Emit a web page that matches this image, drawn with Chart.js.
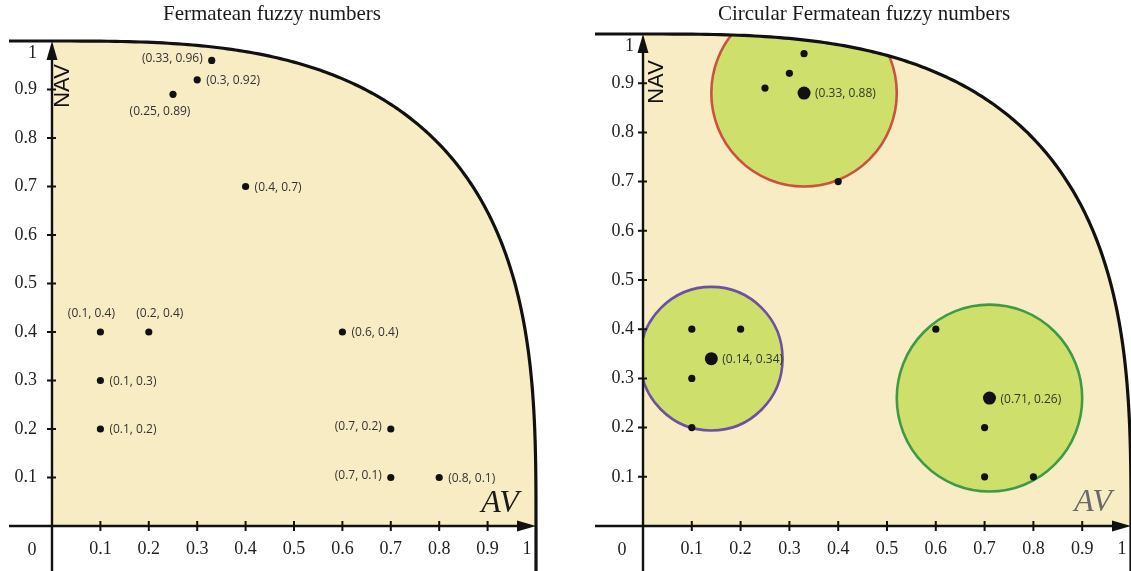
<!DOCTYPE html>
<html>
<head>
<meta charset="utf-8">
<script src="https://cdn.jsdelivr.net/npm/chart.js@4.4.1/dist/chart.umd.min.js"></script>
<style>
  html, body { margin: 0; padding: 0; background: #fff; overflow: hidden; width: 1131px; height: 571px; }
  canvas { position: absolute; top: 0; }
  #left { left: 0; }
  #right { left: 565px; }
</style>
</head>
<body>
<canvas id="left" width="565" height="571"></canvas>
<canvas id="right" width="592" height="571"></canvas>
<script>
// ticks shared by both panels
const tickValues = [0.1, 0.2, 0.3, 0.4, 0.5, 0.6, 0.7, 0.8, 0.9, 1];
const tickLabels = ['0.1', '0.2', '0.3', '0.4', '0.5', '0.6', '0.7', '0.8', '0.9', '1'];

// Fermatean fuzzy numbers (AV, NAV)
const fnAV  = [0.33, 0.3, 0.25, 0.4, 0.1, 0.2, 0.1, 0.1, 0.6, 0.7, 0.7, 0.8];
const fnNAV = [0.96, 0.92, 0.89, 0.7, 0.4, 0.4, 0.3, 0.2, 0.4, 0.2, 0.1, 0.1];

// circular Fermatean fuzzy numbers: centres and radii
const centerAV  = [0.33, 0.14, 0.71];
const centerNAV = [0.88, 0.34, 0.26];
const radius    = [0.19, 0.146, 0.19];

// where each point label sits (style only)
const fnLabelSide = ['l', 'r', 'b', 'r', 'tl', 'tr', 'r', 'r', 'r', 'l', 'l', 'r'];
const circleStroke = ['#cc513e', '#6b51a1', '#3f9a48'];

const serif = '"Liberation Serif", "Times New Roman", serif';

function regionPath(ctx, sx, sy) {
  ctx.beginPath();
  ctx.moveTo(sx.getPixelForValue(0), sy.getPixelForValue(0));
  ctx.lineTo(sx.getPixelForValue(1), sy.getPixelForValue(0));
  for (let i = 0; i <= 200; i++) {
    const t = i / 200 * Math.PI / 2;
    ctx.lineTo(sx.getPixelForValue(Math.pow(Math.cos(t), 2 / 3)),
               sy.getPixelForValue(Math.pow(Math.sin(t), 2 / 3)));
  }
  ctx.closePath();
}

function arrow(ctx, x, y, dir) {
  const len = 19, half = 5.5;
  ctx.beginPath();
  if (dir === 'up') {
    ctx.moveTo(x, y); ctx.lineTo(x - half, y + len); ctx.lineTo(x + half, y + len);
  } else {
    ctx.moveTo(x, y); ctx.lineTo(x - len, y - half); ctx.lineTo(x - len, y + half);
  }
  ctx.closePath();
  ctx.fill();
}

const fermatPlugin = {
  id: 'fermat',
  beforeDatasetsDraw(chart, args, o) {
    const ctx = chart.ctx, sx = chart.scales.x, sy = chart.scales.y;
    const x0 = sx.getPixelForValue(0), x1 = sx.getPixelForValue(1);
    const y0 = sy.getPixelForValue(0), y1 = sy.getPixelForValue(1);
    ctx.save();
    regionPath(ctx, sx, sy);
    ctx.fillStyle = '#f8ecc5';
    ctx.fill();

    if (o.circles) {
      ctx.save();
      regionPath(ctx, sx, sy);
      ctx.clip();
      const kx = sx.getPixelForValue(1) - sx.getPixelForValue(0);
      const ky = sy.getPixelForValue(0) - sy.getPixelForValue(1);
      centerAV.forEach((cx, i) => {
        ctx.beginPath();
        ctx.ellipse(sx.getPixelForValue(cx), sy.getPixelForValue(centerNAV[i]),
                    radius[i] * kx, radius[i] * ky, 0, 0, Math.PI * 2);
        ctx.fillStyle = '#cfdf6c';
        ctx.fill();
        ctx.lineWidth = 2.6;
        ctx.strokeStyle = circleStroke[i];
        ctx.stroke();
      });
      ctx.restore();
    }

    // boundary x^3 + y^3 = 1 with its extensions
    ctx.strokeStyle = '#111';
    ctx.beginPath();
    ctx.moveTo(o.axisStart, y1);
    ctx.lineTo(x0, y1);
    for (let i = 0; i <= 200; i++) {
      const t = i / 200 * Math.PI / 2;
      ctx.lineTo(sx.getPixelForValue(Math.pow(Math.sin(t), 2 / 3)),
                 sy.getPixelForValue(Math.pow(Math.cos(t), 2 / 3)));
    }
    ctx.lineTo(x1, chart.height);
    ctx.lineWidth = 3.2;
    ctx.stroke();

    // axes
    ctx.lineWidth = 2.4;
    ctx.fillStyle = '#111';
    ctx.beginPath();
    ctx.moveTo(o.axisStart, y0); ctx.lineTo(x1 - 10, y0);
    ctx.moveTo(x0, chart.height); ctx.lineTo(x0, y1 + 10);
    ctx.stroke();
    arrow(ctx, x1, y0, 'right');
    arrow(ctx, x0, y1, 'up');

    ctx.lineWidth = 2;
    ctx.beginPath();
    tickValues.slice(0, -1).forEach(v => {
      const px = sx.getPixelForValue(v), py = sy.getPixelForValue(v);
      ctx.moveTo(px, y0 - 5); ctx.lineTo(px, y0 + 5);
      ctx.moveTo(x0 - 5, py); ctx.lineTo(x0 + 4, py);
    });
    ctx.stroke();

    // texts
    ctx.fillStyle = '#1a1a1a';
    ctx.textAlign = 'center';
    ctx.textBaseline = 'middle';
    ctx.font = '21px ' + serif;
    ctx.fillText(o.title, o.titleX, 14);
    ctx.font = '18px ' + serif;
    ctx.fillStyle = '#222';
    ctx.fillText('0', o.zeroX, 550);
    ctx.font = 'italic 32px ' + serif;
    ctx.fillStyle = o.avColor;
    ctx.fillText('AV', o.av[0], o.av[1]);
    ctx.save();
    ctx.translate(o.nav[0], o.nav[1]);
    ctx.rotate(-Math.PI / 2);
    ctx.font = '22px "Liberation Sans", Arial, sans-serif';
    ctx.fillStyle = '#111';
    ctx.fillText('NAV', 0, 0);
    ctx.restore();
    ctx.restore();
  },
  afterDatasetsDraw(chart, args, o) {
    const ctx = chart.ctx;
    ctx.save();
    ctx.font = '12px "Open Sans", sans-serif';
    ctx.textBaseline = 'middle';
    if (o.labelPoints) {
      ctx.fillStyle = '#333';
      chart.getDatasetMeta(0).data.forEach((pt, i) => {
        const txt = '(' + fnAV[i] + ', ' + fnNAV[i] + ')';
        const side = fnLabelSide[i];
        if (side === 'r') { ctx.textAlign = 'left'; ctx.fillText(txt, pt.x + 9, pt.y + 1); }
        else if (side === 'l') { ctx.textAlign = 'right'; ctx.fillText(txt, pt.x - 9, pt.y - 2); }
        else if (side === 'tl') { ctx.textAlign = 'center'; ctx.fillText(txt, pt.x - 9, pt.y - 18); }
        else if (side === 'tr') { ctx.textAlign = 'center'; ctx.fillText(txt, pt.x + 11, pt.y - 18); }
        else { ctx.textAlign = 'center'; ctx.fillText(txt, pt.x - 13, pt.y + 17); }
      });
    }
    if (o.circles) {
      ctx.fillStyle = '#2f3a26';
      ctx.textAlign = 'left';
      chart.getDatasetMeta(1).data.forEach((pt, i) => {
        const txt = '(' + centerAV[i] + ', ' + centerNAV[i] + ')';
        ctx.fillText(txt, pt.x + 11, pt.y + 1);
      });
    }
    ctx.restore();
  }
};

// the "1" labels sit a little inside the corner in the original figure
function axisOpts(padding, fit, lastLabel, lineHeight) {
  return {
    type: 'linear', min: 0, max: 1,
    grid: { display: false, drawTicks: false }, border: { display: false },
    afterBuildTicks: s => { s.ticks = tickValues.map(v => ({ value: v })); },
    afterFit: fit,
    ticks: {
      autoSkip: false, maxRotation: 0, padding: padding, color: '#222',
      font: { family: serif, size: 18, lineHeight: lineHeight },
      callback: (v, i) => i === tickLabels.length - 1 ? lastLabel : tickLabels[i]
    }
  };
}

function makeChart(id, cfg) {
  const datasets = [{
    data: fnAV.map((x, i) => ({ x: x, y: fnNAV[i] })),
    pointRadius: 3.6, pointHoverRadius: 3.6, backgroundColor: '#111', borderWidth: 0, clip: false
  }];
  if (cfg.style.circles) {
    datasets.push({
      data: centerAV.map((x, i) => ({ x: x, y: centerNAV[i] })),
      pointRadius: 6.5, pointHoverRadius: 6.5, backgroundColor: '#111', borderWidth: 0, clip: false
    });
  }
  return new Chart(document.getElementById(id), {
    type: 'scatter',
    data: { datasets: datasets },
    options: {
      responsive: false, animation: false, events: [],
      layout: { padding: { top: cfg.top, right: cfg.right, left: 0, bottom: 0 } },
      plugins: { legend: { display: false }, tooltip: { enabled: false }, fermat: cfg.style },
      scales: {
        x: axisOpts(12, s => { s.height = 45; }, '1\u2002\u2002', 1.2),
        y: axisOpts(cfg.yPad, s => { s.width = cfg.yWidth; }, ['', '1'], 1.38)
      }
    },
    plugins: [fermatPlugin]
  });
}

makeChart('left', {
  top: 41, right: 29, yWidth: 52, yPad: 15,
  style: {
    title: 'Fermatean fuzzy numbers', titleX: 272, axisStart: 9, zeroX: 32,
    nav: [63, 86], av: [500, 504], avColor: '#1a1a1a', labelPoints: true, circles: false
  }
});

makeChart('right', {
  top: 34, right: 26, yWidth: 78, yPad: 9,
  style: {
    title: 'Circular Fermatean fuzzy numbers', titleX: 299, axisStart: 30, zeroX: 57,
    nav: [92, 82], av: [528, 503], avColor: '#6a6a6a', labelPoints: false, circles: true
  }
});
</script>
</body>
</html>
